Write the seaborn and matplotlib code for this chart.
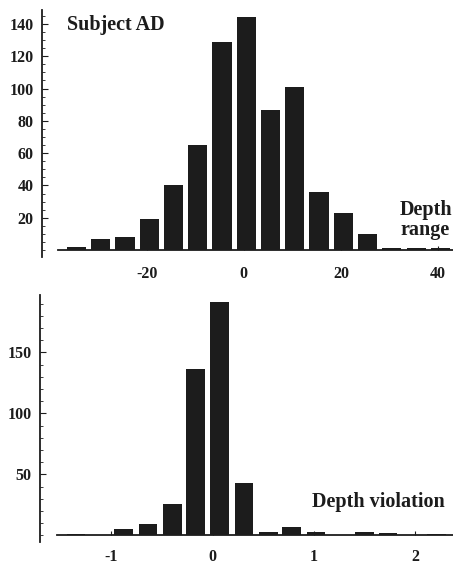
import matplotlib
matplotlib.use("Agg")
import matplotlib.pyplot as plt
from matplotlib.ticker import MultipleLocator, FixedLocator
import seaborn as sns

# top panel: depth range histogram (Subject AD)
range_centers = [-34.5, -29.5, -24.5, -19.5, -14.5, -9.5, -4.5, 0.5,
                 5.5, 10.5, 15.5, 20.5, 25.5, 30.5, 35.5, 40.5]
range_counts = [2, 7, 8, 19, 40, 65, 129, 144, 87, 101, 36, 23, 10, 1, 1, 1]
range_xticks = [-20, 0, 20, 40]
range_yticks = [20, 40, 60, 80, 100, 120, 140]

# bottom panel: depth violation histogram
viol_centers = [-1.35, -1.12, -0.88, -0.64, -0.40, -0.17, 0.07, 0.31,
                0.55, 0.78, 1.02, 1.26, 1.50, 1.73, 1.97, 2.21]
viol_counts = [1, 0.6, 5, 9, 26, 136, 191, 43, 2.5, 7, 2.5, 0.3, 2.5, 1.6, 0.3, 1]
viol_xticks = [-1, 0, 1, 2]
viol_yticks = [50, 100, 150]

sns.set_theme(style="white")
plt.rcParams["font.family"] = ["Liberation Serif", "DejaVu Serif"]
plt.rcParams["font.weight"] = "bold"

ink = "#1c1c1c"
fig = plt.figure(figsize=(4.53, 5.64), dpi=100)
ax1 = fig.add_axes([0.0927, 0.5443, 0.9073, 0.438])
ax2 = fig.add_axes([0.0883, 0.0395, 0.9117, 0.4374])


def style_axis(ax, xlim, ylim, xstart, xticks, yticks, minor, xpad):
    ax.set_xlim(*xlim)
    ax.set_ylim(*ylim)
    for s in ["top", "right"]:
        ax.spines[s].set_visible(False)
    ax.spines["bottom"].set_position(("data", 0))
    ax.spines["bottom"].set_bounds(xstart, xlim[1])
    for s in ["bottom", "left"]:
        ax.spines[s].set_color(ink)
        ax.spines[s].set_linewidth(1.3)
    ax.xaxis.set_major_locator(FixedLocator(xticks))
    ax.yaxis.set_major_locator(FixedLocator(yticks))
    ax.yaxis.set_minor_locator(MultipleLocator(minor))
    ax.set_xticklabels([str(t) for t in xticks])
    ax.set_yticklabels([str(t) for t in yticks])
    ax.tick_params(axis="y", which="major", direction="in", length=4, width=0.8,
                   color=ink, labelsize=11.5, labelcolor=ink, pad=6, left=True)
    ax.tick_params(axis="y", which="minor", direction="in", length=2, width=0.6,
                   color=ink, left=True)
    ax.tick_params(axis="x", which="major", direction="in", length=3, width=0.8,
                   color=ink, labelsize=11.5, labelcolor=ink, pad=xpad, bottom=True)
    for lab in ax.get_xticklabels() + ax.get_yticklabels():
        lab.set_fontweight("bold")
    ax.set_xlabel("")
    ax.set_ylabel("")


sns.barplot(x=range_centers, y=range_counts, native_scale=True, width=0.79,
            color=ink, saturation=1, linewidth=0, ax=ax1)
style_axis(ax1, (-41.6, 43.1), (-4.3, 148.6), -38.4,
           range_xticks, range_yticks, 5, 11.5)

sns.barplot(x=viol_centers, y=viol_counts, native_scale=True, width=0.8,
            color=ink, saturation=1, linewidth=0, ax=ax2)
style_axis(ax2, (-1.705, 2.372), (-5.2, 197), -1.54,
           viol_xticks, viol_yticks, 10, 9.5)

fig.text(67 / 453, 1 - 30 / 564, "Subject AD", fontsize=14.5, fontweight="bold",
         color=ink, ha="left", va="baseline")
fig.text(452 / 453, 1 - 215 / 564, "Depth", fontsize=14.5, fontweight="bold",
         color=ink, ha="right", va="baseline")
fig.text(450 / 453, 1 - 235 / 564, "range", fontsize=14.5, fontweight="bold",
         color=ink, ha="right", va="baseline")
fig.text(445 / 453, 1 - 506.7 / 564, "Depth violation", fontsize=14.5,
         fontweight="bold", color=ink, ha="right", va="baseline")

fig.savefig("out.png", dpi=100)
